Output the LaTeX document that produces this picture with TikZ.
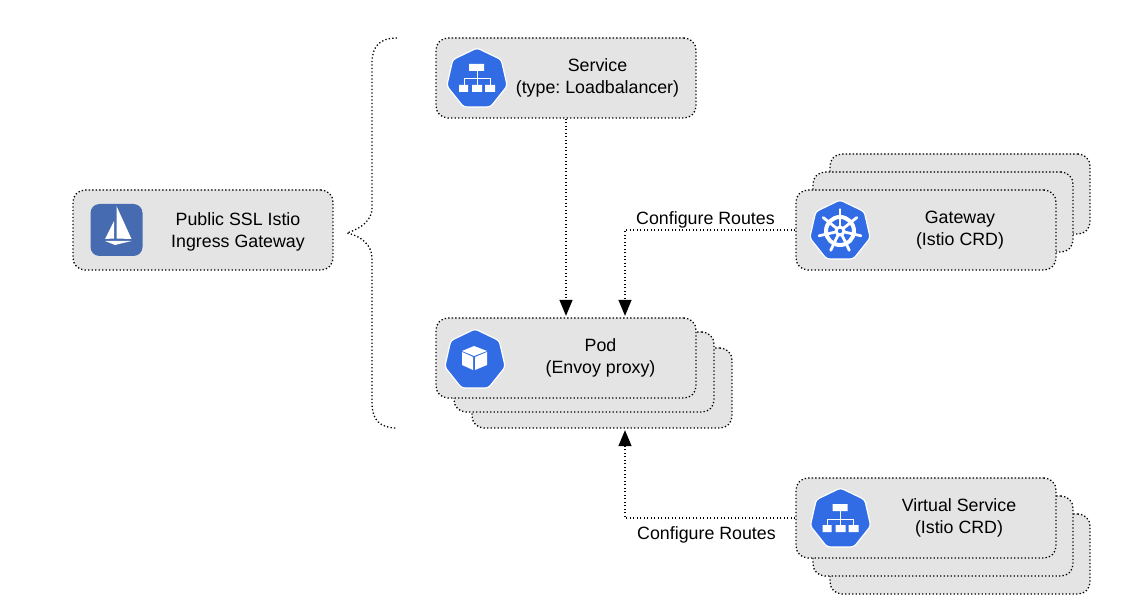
\documentclass[tikz,border=0pt]{standalone}
\usepackage{fontspec}
\setmainfont{Liberation Sans}
\usetikzlibrary{arrows.meta,shapes.geometric}
\definecolor{boxgray}{HTML}{E4E4E4}
\definecolor{k8sblue}{HTML}{326CE5}
\definecolor{istioblue}{HTML}{466BB0}
\tikzset{
  dotline/.style={line width=1.3pt,dash pattern=on 1.3pt off 2.2pt},
  card/.style={dotline,draw=black,fill=boxgray,rounded corners=12pt,minimum width=260pt,minimum height=80pt,inner sep=0pt},
  flow/.style={dotline,-{Triangle[length=16pt,width=13pt]},shorten >=1.5pt},
  txt/.style={align=center,font=\fontsize{17.8}{22}\selectfont\frenchspacing},
  hepta/.style={regular polygon,regular polygon sides=7,fill=k8sblue,draw=white,line width=1.2pt,minimum size=62pt,inner sep=0pt,rounded corners=3pt},
  hierarchy/.pic={
    \fill[white](-8,-14)rectangle(7,-7) (-18,7)rectangle(-9,14) (-5,7)rectangle(5,14) (8,7)rectangle(18,14);
    \draw[white,line width=1pt](0,-7)--(0,7) (-13,7)--(-13,1)--(13,1)--(13,7);
  },
  cube/.pic={
    \fill[white](-1,-14)--(12,-9)--(-1,-4)--(-13,-9)--cycle;
    \fill[white](-13,-8)--(-2,-3)--(-2,10)--(-13,5)--cycle;
    \fill[white](0,-3)--(12,-8)--(12,5)--(0,10)--cycle;
  },
  wheel/.pic={
    \draw[white,line width=4pt](0,0)circle(14);
    \foreach \a in {-90,-38.6,12.9,64.3,115.7,167.1,218.6}
      \draw[white,line width=2.8pt,line cap=round](\a:3)--(\a:21.5);
    \fill[white](0,0)circle(5.5);
    \fill[k8sblue](0,0)circle(2.2);
  },
  sail/.pic={
    \fill[white](0,-24)--(15,9)--(0,8.5)--cycle;
    \fill[white](-2.5,-9)--(-2.5,8.5)--(-11.5,9)--cycle;
    \fill[white](-11.5,11)--(15,11)--(-1.5,15)--cycle;
  }
}
\begin{document}
\begin{tikzpicture}[x=1pt,y=-1pt]
\useasboundingbox(0,0)rectangle(1130,604);
% brace
\coordinate(bracetop)at(397,38);
\coordinate(bracetip)at(347,233);
\coordinate(bracebot)at(397,428);
\draw[dotline](bracetop)..controls(380,38)and(372,46)..(372,63)--(372,208)..controls(372,220)and(362,228)..(bracetip)
  ..controls(362,236)and(372,246)..(372,258)--(372,403)..controls(372,420)and(380,428)..(bracebot);
% ingress
\node[card](ingress)at(203,230){};
\node[txt](ingresstxt)at(238,232){Public SSL Istio\\Ingress Gateway};
\node[fill=istioblue,rounded corners=9pt,minimum size=52pt,inner sep=0pt](ingressicon)at(116.5,230){};
\pic at(ingressicon){sail};
% service
\node[card](svc)at(566,78){};
\node[txt](svctxt)at(597.5,78){Service\\(type: Loadbalancer)};
\node[hepta](svcicon)at(477,79){};
\pic at(477,78){hierarchy};
% pod
\node[card](podc)at(602,388){};
\node[card](podb)at(584,372){};
\node[card](pod)at(566,358){};
\node[txt](podtxt)at(600.5,358){Pod\\(Envoy proxy)};
\node[hepta](podicon)at(475,360){};
\pic at(475,360){cube};
% gateway
\node[card](gwc)at(960,194){};
\node[card](gwb)at(943,212){};
\node[card](gw)at(926,230){};
\node[txt](gwtxt)at(960,230){Gateway\\(Istio CRD)};
\node[hepta](gwicon)at(840,231){};
\pic at(840,231){wheel};
% virtual service
\node[card](vsc)at(960,554){};
\node[card](vsb)at(943,536){};
\node[card](vs)at(926,518){};
\node[txt](vstxt)at(959,518){Virtual Service\\(Istio CRD)};
\node[hepta](vsicon)at(840.5,519){};
\pic at(840.5,518){hierarchy};
% arrows
\draw[flow](svc.south)--(pod.north);
\draw[flow](gw.west)-|([xshift=59pt]pod.north);
\draw[flow](vs.west)-|([xshift=23pt]podc.south);
\node[txt](gwroute)at(705.5,219.5){Configure Routes};
\node[txt](vsroute)at(706.5,535){Configure Routes};
\end{tikzpicture}
\end{document}
